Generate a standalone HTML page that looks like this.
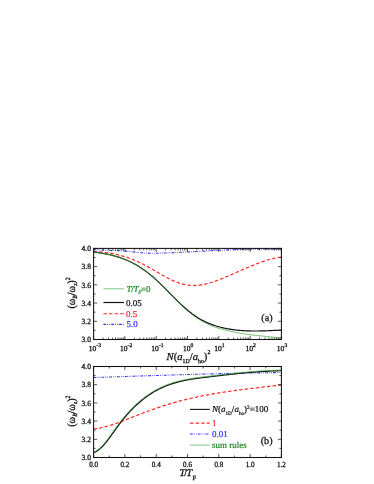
<!DOCTYPE html>
<html><head><meta charset="utf-8"><title>Breathing mode figure</title>
<style>
html,body{margin:0;padding:0;background:#fff;}
body{width:374px;height:484px;overflow:hidden;position:relative;font-family:"Liberation Serif",serif;}
</style></head><body>
<svg width="374" height="484" viewBox="0 0 374 484" style="position:absolute;left:0;top:0">
<rect width="374" height="484" fill="#fff"/>
<defs><filter id="soft" x="-5%" y="-5%" width="110%" height="110%"><feGaussianBlur stdDeviation="0.32"/></filter><clipPath id="ca"><rect x="93.6" y="248.4" width="187.79999999999998" height="91.1"/></clipPath><clipPath id="cb"><rect x="93.6" y="366.5" width="187.79999999999998" height="91.0"/></clipPath></defs>
<g fill="none" stroke-linejoin="round" clip-path="url(#ca)">
<path d="M93.60 249.62 L94.46 249.68 L95.32 249.73 L96.17 249.78 L97.03 249.82 L97.89 249.87 L98.75 249.91 L99.60 249.94 L100.46 249.98 L101.32 250.01 L102.18 250.05 L103.03 250.08 L103.89 250.11 L104.75 250.14 L105.61 250.17 L106.46 250.19 L107.32 250.22 L108.18 250.25 L109.04 250.28 L109.89 250.30 L110.75 250.33 L111.61 250.36 L112.47 250.39 L113.32 250.42 L114.18 250.45 L115.04 250.49 L115.90 250.52 L116.75 250.56 L117.61 250.60 L118.47 250.64 L119.33 250.69 L120.18 250.73 L121.04 250.78 L121.90 250.84 L122.76 250.89 L123.61 250.96 L124.47 251.02 L125.33 251.09 L126.19 251.16 L127.04 251.24 L127.90 251.32 L128.76 251.41 L129.62 251.50 L130.47 251.60 L131.33 251.70 L132.19 251.80 L133.05 251.90 L133.90 252.00 L134.76 252.10 L135.62 252.20 L136.48 252.30 L137.33 252.39 L138.19 252.48 L139.05 252.57 L139.91 252.65 L140.76 252.73 L141.62 252.80 L142.48 252.86 L143.34 252.92 L144.19 252.97 L145.05 253.02 L145.91 253.06 L146.77 253.10 L147.62 253.13 L148.48 253.16 L149.34 253.18 L150.20 253.20 L151.05 253.21 L151.91 253.22 L152.77 253.23 L153.63 253.23 L154.48 253.23 L155.34 253.23 L156.20 253.22 L157.06 253.21 L157.92 253.20 L158.77 253.18 L159.63 253.16 L160.49 253.14 L161.35 253.12 L162.20 253.09 L163.06 253.07 L163.92 253.04 L164.78 253.01 L165.63 252.98 L166.49 252.94 L167.35 252.91 L168.21 252.87 L169.06 252.84 L169.92 252.80 L170.78 252.76 L171.64 252.72 L172.49 252.69 L173.35 252.65 L174.21 252.61 L175.07 252.57 L175.92 252.53 L176.78 252.49 L177.64 252.45 L178.50 252.41 L179.35 252.36 L180.21 252.32 L181.07 252.28 L181.93 252.24 L182.78 252.20 L183.64 252.15 L184.50 252.11 L185.36 252.07 L186.21 252.02 L187.07 251.98 L187.93 251.93 L188.79 251.89 L189.64 251.85 L190.50 251.80 L191.36 251.76 L192.22 251.71 L193.07 251.67 L193.93 251.62 L194.79 251.58 L195.65 251.53 L196.50 251.49 L197.36 251.44 L198.22 251.40 L199.08 251.35 L199.93 251.31 L200.79 251.26 L201.65 251.22 L202.51 251.17 L203.36 251.13 L204.22 251.08 L205.08 251.04 L205.94 251.00 L206.79 250.95 L207.65 250.91 L208.51 250.86 L209.37 250.82 L210.22 250.78 L211.08 250.73 L211.94 250.69 L212.80 250.65 L213.65 250.60 L214.51 250.56 L215.37 250.52 L216.23 250.48 L217.08 250.44 L217.94 250.40 L218.80 250.36 L219.66 250.32 L220.52 250.28 L221.37 250.24 L222.23 250.20 L223.09 250.16 L223.95 250.12 L224.80 250.08 L225.66 250.04 L226.52 250.01 L227.38 249.97 L228.23 249.94 L229.09 249.90 L229.95 249.87 L230.81 249.83 L231.66 249.80 L232.52 249.76 L233.38 249.73 L234.24 249.70 L235.09 249.67 L235.95 249.64 L236.81 249.61 L237.67 249.58 L238.52 249.55 L239.38 249.52 L240.24 249.50 L241.10 249.47 L241.95 249.44 L242.81 249.42 L243.67 249.40 L244.53 249.37 L245.38 249.35 L246.24 249.33 L247.10 249.31 L247.96 249.29 L248.81 249.27 L249.67 249.25 L250.53 249.23 L251.39 249.22 L252.24 249.20 L253.10 249.19 L253.96 249.17 L254.82 249.16 L255.67 249.15 L256.53 249.14 L257.39 249.13 L258.25 249.12 L259.10 249.11 L259.96 249.11 L260.82 249.10 L261.68 249.10 L262.53 249.09 L263.39 249.09 L264.25 249.09 L265.11 249.09 L265.96 249.09 L266.82 249.10 L267.68 249.10 L268.54 249.10 L269.39 249.11 L270.25 249.12 L271.11 249.13 L271.97 249.14 L272.82 249.15 L273.68 249.16 L274.54 249.17 L275.40 249.19 L276.25 249.21 L277.11 249.22 L277.97 249.24 L278.83 249.26 L279.68 249.29 L280.54 249.31 L281.40 249.34" stroke="#3030ff" stroke-width="1.1" stroke-dasharray="2.8 1.2 0.7 1.2 0.7 1.2"/>
<path d="M93.60 251.42 L94.46 251.47 L95.32 251.52 L96.17 251.57 L97.03 251.63 L97.89 251.69 L98.75 251.76 L99.60 251.83 L100.46 251.91 L101.32 251.99 L102.18 252.08 L103.03 252.18 L103.89 252.28 L104.75 252.38 L105.61 252.50 L106.46 252.61 L107.32 252.74 L108.18 252.87 L109.04 253.00 L109.89 253.14 L110.75 253.29 L111.61 253.45 L112.47 253.61 L113.32 253.77 L114.18 253.95 L115.04 254.13 L115.90 254.31 L116.75 254.51 L117.61 254.71 L118.47 254.92 L119.33 255.13 L120.18 255.35 L121.04 255.58 L121.90 255.82 L122.76 256.06 L123.61 256.31 L124.47 256.57 L125.33 256.84 L126.19 257.11 L127.04 257.39 L127.90 257.68 L128.76 257.98 L129.62 258.28 L130.47 258.60 L131.33 258.92 L132.19 259.25 L133.05 259.58 L133.90 259.93 L134.76 260.29 L135.62 260.65 L136.48 261.02 L137.33 261.40 L138.19 261.79 L139.05 262.19 L139.91 262.60 L140.76 263.02 L141.62 263.44 L142.48 263.88 L143.34 264.32 L144.19 264.77 L145.05 265.23 L145.91 265.69 L146.77 266.16 L147.62 266.64 L148.48 267.12 L149.34 267.60 L150.20 268.09 L151.05 268.58 L151.91 269.08 L152.77 269.57 L153.63 270.07 L154.48 270.57 L155.34 271.07 L156.20 271.57 L157.06 272.07 L157.92 272.57 L158.77 273.07 L159.63 273.57 L160.49 274.06 L161.35 274.55 L162.20 275.03 L163.06 275.52 L163.92 275.99 L164.78 276.46 L165.63 276.93 L166.49 277.39 L167.35 277.84 L168.21 278.28 L169.06 278.72 L169.92 279.15 L170.78 279.56 L171.64 279.97 L172.49 280.37 L173.35 280.76 L174.21 281.13 L175.07 281.50 L175.92 281.85 L176.78 282.19 L177.64 282.51 L178.50 282.82 L179.35 283.12 L180.21 283.40 L181.07 283.66 L181.93 283.91 L182.78 284.14 L183.64 284.36 L184.50 284.55 L185.36 284.73 L186.21 284.89 L187.07 285.03 L187.93 285.15 L188.79 285.25 L189.64 285.34 L190.50 285.40 L191.36 285.45 L192.22 285.48 L193.07 285.49 L193.93 285.49 L194.79 285.47 L195.65 285.44 L196.50 285.39 L197.36 285.33 L198.22 285.25 L199.08 285.15 L199.93 285.05 L200.79 284.92 L201.65 284.79 L202.51 284.64 L203.36 284.48 L204.22 284.31 L205.08 284.13 L205.94 283.93 L206.79 283.73 L207.65 283.51 L208.51 283.28 L209.37 283.04 L210.22 282.80 L211.08 282.54 L211.94 282.28 L212.80 282.00 L213.65 281.72 L214.51 281.43 L215.37 281.13 L216.23 280.83 L217.08 280.52 L217.94 280.20 L218.80 279.88 L219.66 279.55 L220.52 279.21 L221.37 278.87 L222.23 278.53 L223.09 278.18 L223.95 277.83 L224.80 277.47 L225.66 277.11 L226.52 276.75 L227.38 276.38 L228.23 276.02 L229.09 275.65 L229.95 275.28 L230.81 274.90 L231.66 274.53 L232.52 274.15 L233.38 273.77 L234.24 273.39 L235.09 273.01 L235.95 272.63 L236.81 272.25 L237.67 271.87 L238.52 271.49 L239.38 271.11 L240.24 270.73 L241.10 270.35 L241.95 269.97 L242.81 269.59 L243.67 269.21 L244.53 268.84 L245.38 268.46 L246.24 268.09 L247.10 267.72 L247.96 267.36 L248.81 266.99 L249.67 266.63 L250.53 266.27 L251.39 265.91 L252.24 265.56 L253.10 265.21 L253.96 264.86 L254.82 264.52 L255.67 264.18 L256.53 263.85 L257.39 263.52 L258.25 263.20 L259.10 262.88 L259.96 262.56 L260.82 262.26 L261.68 261.95 L262.53 261.65 L263.39 261.36 L264.25 261.08 L265.11 260.80 L265.96 260.53 L266.82 260.26 L267.68 260.00 L268.54 259.75 L269.39 259.51 L270.25 259.28 L271.11 259.05 L271.97 258.83 L272.82 258.62 L273.68 258.41 L274.54 258.22 L275.40 258.03 L276.25 257.86 L277.11 257.69 L277.97 257.53 L278.83 257.39 L279.68 257.25 L280.54 257.12 L281.40 257.00" stroke="#ff2a2a" stroke-width="1.2" stroke-dasharray="3.5 2.1"/>
<path d="M93.60 252.06 L94.46 252.17 L95.32 252.27 L96.17 252.38 L97.03 252.50 L97.89 252.62 L98.75 252.74 L99.60 252.86 L100.46 253.00 L101.32 253.13 L102.18 253.27 L103.03 253.41 L103.89 253.56 L104.75 253.72 L105.61 253.88 L106.46 254.05 L107.32 254.22 L108.18 254.40 L109.04 254.58 L109.89 254.78 L110.75 254.97 L111.61 255.18 L112.47 255.39 L113.32 255.61 L114.18 255.84 L115.04 256.07 L115.90 256.32 L116.75 256.57 L117.61 256.83 L118.47 257.10 L119.33 257.37 L120.18 257.66 L121.04 257.96 L121.90 258.26 L122.76 258.58 L123.61 258.90 L124.47 259.23 L125.33 259.58 L126.19 259.93 L127.04 260.30 L127.90 260.68 L128.76 261.06 L129.62 261.46 L130.47 261.87 L131.33 262.29 L132.19 262.73 L133.05 263.17 L133.90 263.63 L134.76 264.10 L135.62 264.58 L136.48 265.08 L137.33 265.58 L138.19 266.10 L139.05 266.63 L139.91 267.18 L140.76 267.73 L141.62 268.30 L142.48 268.88 L143.34 269.48 L144.19 270.08 L145.05 270.70 L145.91 271.33 L146.77 271.97 L147.62 272.62 L148.48 273.29 L149.34 273.97 L150.20 274.66 L151.05 275.36 L151.91 276.08 L152.77 276.81 L153.63 277.55 L154.48 278.30 L155.34 279.07 L156.20 279.85 L157.06 280.63 L157.92 281.43 L158.77 282.24 L159.63 283.06 L160.49 283.89 L161.35 284.72 L162.20 285.57 L163.06 286.41 L163.92 287.27 L164.78 288.13 L165.63 288.99 L166.49 289.85 L167.35 290.72 L168.21 291.59 L169.06 292.46 L169.92 293.33 L170.78 294.21 L171.64 295.08 L172.49 295.94 L173.35 296.81 L174.21 297.67 L175.07 298.53 L175.92 299.39 L176.78 300.23 L177.64 301.08 L178.50 301.91 L179.35 302.74 L180.21 303.56 L181.07 304.37 L181.93 305.17 L182.78 305.96 L183.64 306.75 L184.50 307.52 L185.36 308.28 L186.21 309.02 L187.07 309.76 L187.93 310.48 L188.79 311.19 L189.64 311.88 L190.50 312.56 L191.36 313.22 L192.22 313.87 L193.07 314.50 L193.93 315.11 L194.79 315.71 L195.65 316.29 L196.50 316.86 L197.36 317.41 L198.22 317.94 L199.08 318.46 L199.93 318.96 L200.79 319.45 L201.65 319.93 L202.51 320.39 L203.36 320.83 L204.22 321.26 L205.08 321.68 L205.94 322.09 L206.79 322.48 L207.65 322.86 L208.51 323.23 L209.37 323.58 L210.22 323.92 L211.08 324.26 L211.94 324.58 L212.80 324.89 L213.65 325.18 L214.51 325.47 L215.37 325.75 L216.23 326.02 L217.08 326.28 L217.94 326.53 L218.80 326.77 L219.66 327.00 L220.52 327.22 L221.37 327.44 L222.23 327.64 L223.09 327.84 L223.95 328.03 L224.80 328.22 L225.66 328.40 L226.52 328.57 L227.38 328.73 L228.23 328.89 L229.09 329.04 L229.95 329.18 L230.81 329.32 L231.66 329.45 L232.52 329.57 L233.38 329.69 L234.24 329.80 L235.09 329.91 L235.95 330.01 L236.81 330.11 L237.67 330.20 L238.52 330.28 L239.38 330.36 L240.24 330.44 L241.10 330.50 L241.95 330.57 L242.81 330.63 L243.67 330.68 L244.53 330.73 L245.38 330.78 L246.24 330.82 L247.10 330.85 L247.96 330.89 L248.81 330.92 L249.67 330.94 L250.53 330.96 L251.39 330.98 L252.24 330.99 L253.10 331.00 L253.96 331.01 L254.82 331.01 L255.67 331.01 L256.53 331.00 L257.39 331.00 L258.25 330.99 L259.10 330.98 L259.96 330.96 L260.82 330.94 L261.68 330.92 L262.53 330.90 L263.39 330.88 L264.25 330.85 L265.11 330.82 L265.96 330.79 L266.82 330.76 L267.68 330.73 L268.54 330.69 L269.39 330.66 L270.25 330.62 L271.11 330.58 L271.97 330.54 L272.82 330.50 L273.68 330.45 L274.54 330.41 L275.40 330.37 L276.25 330.32 L277.11 330.28 L277.97 330.23 L278.83 330.19 L279.68 330.14 L280.54 330.10 L281.40 330.05" stroke="#111" stroke-width="1.2"/>
<path d="M93.60 252.07 L94.46 252.17 L95.32 252.26 L96.17 252.37 L97.03 252.47 L97.89 252.59 L98.75 252.70 L99.60 252.83 L100.46 252.95 L101.32 253.09 L102.18 253.22 L103.03 253.37 L103.89 253.52 L104.75 253.67 L105.61 253.83 L106.46 254.00 L107.32 254.18 L108.18 254.36 L109.04 254.54 L109.89 254.74 L110.75 254.94 L111.61 255.15 L112.47 255.37 L113.32 255.59 L114.18 255.82 L115.04 256.06 L115.90 256.31 L116.75 256.57 L117.61 256.83 L118.47 257.11 L119.33 257.39 L120.18 257.68 L121.04 257.98 L121.90 258.29 L122.76 258.61 L123.61 258.94 L124.47 259.28 L125.33 259.63 L126.19 259.99 L127.04 260.36 L127.90 260.74 L128.76 261.13 L129.62 261.53 L130.47 261.94 L131.33 262.36 L132.19 262.80 L133.05 263.24 L133.90 263.70 L134.76 264.17 L135.62 264.65 L136.48 265.14 L137.33 265.65 L138.19 266.17 L139.05 266.69 L139.91 267.23 L140.76 267.79 L141.62 268.35 L142.48 268.93 L143.34 269.52 L144.19 270.12 L145.05 270.74 L145.91 271.36 L146.77 272.00 L147.62 272.65 L148.48 273.32 L149.34 273.99 L150.20 274.68 L151.05 275.39 L151.91 276.10 L152.77 276.83 L153.63 277.57 L154.48 278.33 L155.34 279.10 L156.20 279.88 L157.06 280.67 L157.92 281.47 L158.77 282.29 L159.63 283.11 L160.49 283.95 L161.35 284.79 L162.20 285.64 L163.06 286.50 L163.92 287.36 L164.78 288.23 L165.63 289.11 L166.49 289.99 L167.35 290.87 L168.21 291.75 L169.06 292.64 L169.92 293.53 L170.78 294.42 L171.64 295.31 L172.49 296.19 L173.35 297.08 L174.21 297.96 L175.07 298.85 L175.92 299.72 L176.78 300.60 L177.64 301.46 L178.50 302.32 L179.35 303.18 L180.21 304.03 L181.07 304.87 L181.93 305.70 L182.78 306.52 L183.64 307.33 L184.50 308.13 L185.36 308.92 L186.21 309.69 L187.07 310.46 L187.93 311.21 L188.79 311.95 L189.64 312.67 L190.50 313.38 L191.36 314.07 L192.22 314.74 L193.07 315.40 L193.93 316.04 L194.79 316.66 L195.65 317.26 L196.50 317.85 L197.36 318.41 L198.22 318.97 L199.08 319.50 L199.93 320.03 L200.79 320.53 L201.65 321.02 L202.51 321.50 L203.36 321.96 L204.22 322.41 L205.08 322.84 L205.94 323.27 L206.79 323.67 L207.65 324.07 L208.51 324.46 L209.37 324.83 L210.22 325.19 L211.08 325.54 L211.94 325.88 L212.80 326.21 L213.65 326.53 L214.51 326.84 L215.37 327.14 L216.23 327.43 L217.08 327.72 L217.94 327.99 L218.80 328.26 L219.66 328.52 L220.52 328.77 L221.37 329.02 L222.23 329.26 L223.09 329.50 L223.95 329.73 L224.80 329.95 L225.66 330.17 L226.52 330.38 L227.38 330.59 L228.23 330.80 L229.09 331.00 L229.95 331.19 L230.81 331.38 L231.66 331.57 L232.52 331.75 L233.38 331.93 L234.24 332.10 L235.09 332.27 L235.95 332.44 L236.81 332.60 L237.67 332.76 L238.52 332.91 L239.38 333.06 L240.24 333.21 L241.10 333.35 L241.95 333.49 L242.81 333.63 L243.67 333.77 L244.53 333.90 L245.38 334.03 L246.24 334.15 L247.10 334.27 L247.96 334.39 L248.81 334.51 L249.67 334.63 L250.53 334.74 L251.39 334.85 L252.24 334.96 L253.10 335.06 L253.96 335.17 L254.82 335.27 L255.67 335.37 L256.53 335.47 L257.39 335.56 L258.25 335.66 L259.10 335.75 L259.96 335.85 L260.82 335.94 L261.68 336.03 L262.53 336.11 L263.39 336.20 L264.25 336.29 L265.11 336.38 L265.96 336.46 L266.82 336.55 L267.68 336.63 L268.54 336.71 L269.39 336.80 L270.25 336.88 L271.11 336.96 L271.97 337.05 L272.82 337.13 L273.68 337.21 L274.54 337.30 L275.40 337.38 L276.25 337.46 L277.11 337.55 L277.97 337.63 L278.83 337.72 L279.68 337.80 L280.54 337.89 L281.40 337.98" stroke="#3aa53a" stroke-width="0.75"/>
</g>
<g fill="none" stroke-linejoin="round" clip-path="url(#cb)">
<path d="M93.60 377.53 L94.46 377.50 L95.32 377.47 L96.17 377.44 L97.03 377.41 L97.89 377.39 L98.75 377.36 L99.60 377.33 L100.46 377.30 L101.32 377.27 L102.18 377.24 L103.03 377.22 L103.89 377.19 L104.75 377.16 L105.61 377.13 L106.46 377.10 L107.32 377.08 L108.18 377.05 L109.04 377.02 L109.89 376.99 L110.75 376.96 L111.61 376.93 L112.47 376.91 L113.32 376.88 L114.18 376.85 L115.04 376.82 L115.90 376.79 L116.75 376.76 L117.61 376.74 L118.47 376.71 L119.33 376.68 L120.18 376.65 L121.04 376.62 L121.90 376.59 L122.76 376.57 L123.61 376.54 L124.47 376.51 L125.33 376.48 L126.19 376.45 L127.04 376.42 L127.90 376.40 L128.76 376.37 L129.62 376.34 L130.47 376.31 L131.33 376.28 L132.19 376.25 L133.05 376.23 L133.90 376.20 L134.76 376.17 L135.62 376.14 L136.48 376.11 L137.33 376.09 L138.19 376.06 L139.05 376.03 L139.91 376.00 L140.76 375.97 L141.62 375.95 L142.48 375.92 L143.34 375.89 L144.19 375.86 L145.05 375.84 L145.91 375.81 L146.77 375.78 L147.62 375.75 L148.48 375.73 L149.34 375.70 L150.20 375.67 L151.05 375.64 L151.91 375.62 L152.77 375.59 L153.63 375.56 L154.48 375.53 L155.34 375.51 L156.20 375.48 L157.06 375.45 L157.92 375.43 L158.77 375.40 L159.63 375.37 L160.49 375.34 L161.35 375.32 L162.20 375.29 L163.06 375.26 L163.92 375.24 L164.78 375.21 L165.63 375.18 L166.49 375.16 L167.35 375.13 L168.21 375.10 L169.06 375.08 L169.92 375.05 L170.78 375.03 L171.64 375.00 L172.49 374.97 L173.35 374.95 L174.21 374.92 L175.07 374.89 L175.92 374.87 L176.78 374.84 L177.64 374.82 L178.50 374.79 L179.35 374.77 L180.21 374.74 L181.07 374.72 L181.93 374.69 L182.78 374.67 L183.64 374.64 L184.50 374.61 L185.36 374.59 L186.21 374.56 L187.07 374.54 L187.93 374.52 L188.79 374.49 L189.64 374.47 L190.50 374.44 L191.36 374.42 L192.22 374.39 L193.07 374.37 L193.93 374.34 L194.79 374.32 L195.65 374.30 L196.50 374.27 L197.36 374.25 L198.22 374.22 L199.08 374.20 L199.93 374.18 L200.79 374.15 L201.65 374.13 L202.51 374.11 L203.36 374.08 L204.22 374.06 L205.08 374.04 L205.94 374.02 L206.79 373.99 L207.65 373.97 L208.51 373.95 L209.37 373.93 L210.22 373.90 L211.08 373.88 L211.94 373.86 L212.80 373.84 L213.65 373.82 L214.51 373.79 L215.37 373.77 L216.23 373.75 L217.08 373.73 L217.94 373.71 L218.80 373.69 L219.66 373.67 L220.52 373.65 L221.37 373.62 L222.23 373.60 L223.09 373.58 L223.95 373.56 L224.80 373.54 L225.66 373.52 L226.52 373.50 L227.38 373.48 L228.23 373.46 L229.09 373.44 L229.95 373.42 L230.81 373.40 L231.66 373.38 L232.52 373.37 L233.38 373.35 L234.24 373.33 L235.09 373.31 L235.95 373.29 L236.81 373.27 L237.67 373.25 L238.52 373.24 L239.38 373.22 L240.24 373.20 L241.10 373.18 L241.95 373.16 L242.81 373.15 L243.67 373.13 L244.53 373.11 L245.38 373.10 L246.24 373.08 L247.10 373.06 L247.96 373.05 L248.81 373.03 L249.67 373.01 L250.53 373.00 L251.39 372.98 L252.24 372.97 L253.10 372.95 L253.96 372.93 L254.82 372.92 L255.67 372.90 L256.53 372.89 L257.39 372.87 L258.25 372.86 L259.10 372.84 L259.96 372.83 L260.82 372.82 L261.68 372.80 L262.53 372.79 L263.39 372.77 L264.25 372.76 L265.11 372.75 L265.96 372.73 L266.82 372.72 L267.68 372.71 L268.54 372.70 L269.39 372.68 L270.25 372.67 L271.11 372.66 L271.97 372.65 L272.82 372.64 L273.68 372.62 L274.54 372.61 L275.40 372.60 L276.25 372.59 L277.11 372.58 L277.97 372.57 L278.83 372.56 L279.68 372.55 L280.54 372.54 L281.40 372.53" stroke="#3030ff" stroke-width="1.1" stroke-dasharray="2.8 1.2 0.7 1.2 0.7 1.2"/>
<path d="M93.60 429.01 L94.46 428.91 L95.32 428.80 L96.17 428.68 L97.03 428.55 L97.89 428.41 L98.75 428.26 L99.60 428.10 L100.46 427.92 L101.32 427.74 L102.18 427.55 L103.03 427.35 L103.89 427.14 L104.75 426.93 L105.61 426.70 L106.46 426.47 L107.32 426.23 L108.18 425.98 L109.04 425.73 L109.89 425.47 L110.75 425.20 L111.61 424.93 L112.47 424.65 L113.32 424.36 L114.18 424.07 L115.04 423.78 L115.90 423.48 L116.75 423.17 L117.61 422.86 L118.47 422.55 L119.33 422.23 L120.18 421.91 L121.04 421.59 L121.90 421.26 L122.76 420.94 L123.61 420.61 L124.47 420.27 L125.33 419.94 L126.19 419.60 L127.04 419.27 L127.90 418.93 L128.76 418.59 L129.62 418.25 L130.47 417.91 L131.33 417.57 L132.19 417.23 L133.05 416.90 L133.90 416.56 L134.76 416.22 L135.62 415.89 L136.48 415.56 L137.33 415.22 L138.19 414.89 L139.05 414.56 L139.91 414.23 L140.76 413.90 L141.62 413.57 L142.48 413.25 L143.34 412.92 L144.19 412.60 L145.05 412.28 L145.91 411.96 L146.77 411.64 L147.62 411.32 L148.48 411.01 L149.34 410.70 L150.20 410.38 L151.05 410.08 L151.91 409.77 L152.77 409.46 L153.63 409.16 L154.48 408.86 L155.34 408.56 L156.20 408.26 L157.06 407.96 L157.92 407.67 L158.77 407.38 L159.63 407.09 L160.49 406.80 L161.35 406.52 L162.20 406.24 L163.06 405.96 L163.92 405.68 L164.78 405.41 L165.63 405.14 L166.49 404.87 L167.35 404.60 L168.21 404.34 L169.06 404.08 L169.92 403.83 L170.78 403.57 L171.64 403.32 L172.49 403.07 L173.35 402.82 L174.21 402.58 L175.07 402.34 L175.92 402.10 L176.78 401.87 L177.64 401.63 L178.50 401.40 L179.35 401.17 L180.21 400.95 L181.07 400.72 L181.93 400.50 L182.78 400.28 L183.64 400.07 L184.50 399.85 L185.36 399.64 L186.21 399.43 L187.07 399.23 L187.93 399.02 L188.79 398.82 L189.64 398.62 L190.50 398.42 L191.36 398.22 L192.22 398.03 L193.07 397.84 L193.93 397.65 L194.79 397.46 L195.65 397.27 L196.50 397.09 L197.36 396.91 L198.22 396.73 L199.08 396.55 L199.93 396.38 L200.79 396.20 L201.65 396.03 L202.51 395.86 L203.36 395.69 L204.22 395.53 L205.08 395.36 L205.94 395.20 L206.79 395.04 L207.65 394.88 L208.51 394.72 L209.37 394.56 L210.22 394.41 L211.08 394.26 L211.94 394.10 L212.80 393.95 L213.65 393.81 L214.51 393.66 L215.37 393.51 L216.23 393.37 L217.08 393.23 L217.94 393.09 L218.80 392.95 L219.66 392.81 L220.52 392.67 L221.37 392.54 L222.23 392.40 L223.09 392.27 L223.95 392.14 L224.80 392.01 L225.66 391.88 L226.52 391.75 L227.38 391.62 L228.23 391.50 L229.09 391.37 L229.95 391.25 L230.81 391.13 L231.66 391.01 L232.52 390.89 L233.38 390.77 L234.24 390.65 L235.09 390.53 L235.95 390.42 L236.81 390.30 L237.67 390.19 L238.52 390.07 L239.38 389.96 L240.24 389.85 L241.10 389.73 L241.95 389.62 L242.81 389.51 L243.67 389.41 L244.53 389.30 L245.38 389.19 L246.24 389.08 L247.10 388.98 L247.96 388.87 L248.81 388.76 L249.67 388.66 L250.53 388.56 L251.39 388.45 L252.24 388.35 L253.10 388.25 L253.96 388.14 L254.82 388.04 L255.67 387.94 L256.53 387.84 L257.39 387.74 L258.25 387.64 L259.10 387.54 L259.96 387.44 L260.82 387.34 L261.68 387.24 L262.53 387.14 L263.39 387.04 L264.25 386.94 L265.11 386.84 L265.96 386.74 L266.82 386.65 L267.68 386.55 L268.54 386.45 L269.39 386.35 L270.25 386.25 L271.11 386.15 L271.97 386.05 L272.82 385.96 L273.68 385.86 L274.54 385.76 L275.40 385.66 L276.25 385.56 L277.11 385.46 L277.97 385.36 L278.83 385.26 L279.68 385.16 L280.54 385.06 L281.40 384.96" stroke="#ff2a2a" stroke-width="1.2" stroke-dasharray="3.5 2.1"/>
<path d="M93.60 452.61 L94.46 452.32 L95.32 451.96 L96.17 451.53 L97.03 451.02 L97.89 450.46 L98.75 449.82 L99.60 449.13 L100.46 448.39 L101.32 447.59 L102.18 446.73 L103.03 445.84 L103.89 444.89 L104.75 443.91 L105.61 442.89 L106.46 441.83 L107.32 440.75 L108.18 439.63 L109.04 438.49 L109.89 437.33 L110.75 436.16 L111.61 434.97 L112.47 433.77 L113.32 432.56 L114.18 431.35 L115.04 430.14 L115.90 428.94 L116.75 427.74 L117.61 426.56 L118.47 425.39 L119.33 424.23 L120.18 423.10 L121.04 421.99 L121.90 420.89 L122.76 419.81 L123.61 418.76 L124.47 417.72 L125.33 416.69 L126.19 415.69 L127.04 414.70 L127.90 413.74 L128.76 412.78 L129.62 411.85 L130.47 410.93 L131.33 410.04 L132.19 409.15 L133.05 408.29 L133.90 407.44 L134.76 406.60 L135.62 405.79 L136.48 404.99 L137.33 404.20 L138.19 403.43 L139.05 402.68 L139.91 401.94 L140.76 401.22 L141.62 400.51 L142.48 399.82 L143.34 399.14 L144.19 398.47 L145.05 397.83 L145.91 397.19 L146.77 396.57 L147.62 395.96 L148.48 395.37 L149.34 394.79 L150.20 394.22 L151.05 393.67 L151.91 393.13 L152.77 392.60 L153.63 392.08 L154.48 391.58 L155.34 391.09 L156.20 390.61 L157.06 390.15 L157.92 389.70 L158.77 389.25 L159.63 388.82 L160.49 388.40 L161.35 388.00 L162.20 387.60 L163.06 387.21 L163.92 386.84 L164.78 386.47 L165.63 386.12 L166.49 385.78 L167.35 385.44 L168.21 385.12 L169.06 384.80 L169.92 384.49 L170.78 384.20 L171.64 383.91 L172.49 383.63 L173.35 383.35 L174.21 383.09 L175.07 382.84 L175.92 382.59 L176.78 382.35 L177.64 382.11 L178.50 381.89 L179.35 381.67 L180.21 381.46 L181.07 381.25 L181.93 381.05 L182.78 380.86 L183.64 380.67 L184.50 380.49 L185.36 380.32 L186.21 380.15 L187.07 379.98 L187.93 379.82 L188.79 379.67 L189.64 379.52 L190.50 379.37 L191.36 379.23 L192.22 379.09 L193.07 378.95 L193.93 378.82 L194.79 378.69 L195.65 378.57 L196.50 378.45 L197.36 378.33 L198.22 378.21 L199.08 378.10 L199.93 377.98 L200.79 377.87 L201.65 377.77 L202.51 377.66 L203.36 377.55 L204.22 377.45 L205.08 377.34 L205.94 377.24 L206.79 377.14 L207.65 377.03 L208.51 376.93 L209.37 376.83 L210.22 376.73 L211.08 376.63 L211.94 376.52 L212.80 376.42 L213.65 376.32 L214.51 376.22 L215.37 376.11 L216.23 376.01 L217.08 375.91 L217.94 375.81 L218.80 375.71 L219.66 375.61 L220.52 375.51 L221.37 375.41 L222.23 375.31 L223.09 375.21 L223.95 375.11 L224.80 375.01 L225.66 374.91 L226.52 374.82 L227.38 374.72 L228.23 374.62 L229.09 374.53 L229.95 374.43 L230.81 374.34 L231.66 374.24 L232.52 374.15 L233.38 374.06 L234.24 373.97 L235.09 373.87 L235.95 373.78 L236.81 373.69 L237.67 373.61 L238.52 373.52 L239.38 373.43 L240.24 373.34 L241.10 373.26 L241.95 373.17 L242.81 373.09 L243.67 373.01 L244.53 372.93 L245.38 372.85 L246.24 372.77 L247.10 372.69 L247.96 372.61 L248.81 372.53 L249.67 372.46 L250.53 372.38 L251.39 372.31 L252.24 372.24 L253.10 372.17 L253.96 372.10 L254.82 372.03 L255.67 371.97 L256.53 371.90 L257.39 371.84 L258.25 371.77 L259.10 371.71 L259.96 371.65 L260.82 371.60 L261.68 371.54 L262.53 371.48 L263.39 371.43 L264.25 371.38 L265.11 371.33 L265.96 371.28 L266.82 371.23 L267.68 371.19 L268.54 371.14 L269.39 371.10 L270.25 371.06 L271.11 371.02 L271.97 370.98 L272.82 370.95 L273.68 370.92 L274.54 370.88 L275.40 370.86 L276.25 370.83 L277.11 370.80 L277.97 370.78 L278.83 370.76 L279.68 370.74 L280.54 370.72 L281.40 370.70" stroke="#111" stroke-width="1.2"/>
<path d="M93.10 452.01 L93.96 451.72 L94.82 451.36 L95.67 450.93 L96.53 450.42 L97.39 449.86 L98.25 449.22 L99.10 448.53 L99.96 447.79 L100.82 446.99 L101.68 446.13 L102.53 445.24 L103.39 444.29 L104.25 443.31 L105.11 442.29 L105.96 441.23 L106.82 440.15 L107.68 439.03 L108.54 437.89 L109.39 436.73 L110.25 435.56 L111.11 434.37 L111.97 433.17 L112.82 431.96 L113.68 430.75 L114.54 429.54 L115.40 428.34 L116.25 427.14 L117.11 425.96 L117.97 424.79 L118.83 423.63 L119.68 422.50 L120.54 421.39 L121.40 420.29 L122.26 419.21 L123.11 418.16 L123.97 417.12 L124.83 416.09 L125.69 415.09 L126.54 414.10 L127.40 413.14 L128.26 412.18 L129.12 411.25 L129.97 410.33 L130.83 409.44 L131.69 408.55 L132.55 407.69 L133.40 406.84 L134.26 406.00 L135.12 405.19 L135.98 404.39 L136.83 403.60 L137.69 402.83 L138.55 402.08 L139.41 401.34 L140.26 400.62 L141.12 399.91 L141.98 399.22 L142.84 398.54 L143.69 397.87 L144.55 397.23 L145.41 396.59 L146.27 395.97 L147.12 395.36 L147.98 394.77 L148.84 394.19 L149.70 393.62 L150.55 393.07 L151.41 392.53 L152.27 392.00 L153.13 391.48 L153.98 390.98 L154.84 390.49 L155.70 390.01 L156.56 389.55 L157.42 389.10 L158.27 388.65 L159.13 388.22 L159.99 387.80 L160.85 387.40 L161.70 387.00 L162.56 386.61 L163.42 386.24 L164.28 385.87 L165.13 385.52 L165.99 385.18 L166.85 384.84 L167.71 384.52 L168.56 384.20 L169.42 383.89 L170.28 383.60 L171.14 383.31 L171.99 383.03 L172.85 382.75 L173.71 382.49 L174.57 382.24 L175.42 381.99 L176.28 381.75 L177.14 381.51 L178.00 381.29 L178.85 381.07 L179.71 380.86 L180.57 380.65 L181.43 380.45 L182.28 380.26 L183.14 380.07 L184.00 379.89 L184.86 379.72 L185.71 379.55 L186.57 379.38 L187.43 379.22 L188.29 379.07 L189.14 378.92 L190.00 378.77 L190.86 378.63 L191.72 378.49 L192.57 378.35 L193.43 378.22 L194.29 378.09 L195.15 377.97 L196.00 377.85 L196.86 377.73 L197.72 377.61 L198.58 377.50 L199.43 377.38 L200.29 377.27 L201.15 377.17 L202.01 377.06 L202.86 376.95 L203.72 376.85 L204.58 376.74 L205.44 376.64 L206.29 376.54 L207.15 376.43 L208.01 376.33 L208.87 376.23 L209.72 376.13 L210.58 376.03 L211.44 375.92 L212.30 375.82 L213.15 375.72 L214.01 375.62 L214.87 375.51 L215.73 375.41 L216.58 375.31 L217.44 375.21 L218.30 375.11 L219.16 375.01 L220.02 374.91 L220.87 374.81 L221.73 374.71 L222.59 374.61 L223.45 374.51 L224.30 374.41 L225.16 374.31 L226.02 374.22 L226.88 374.12 L227.73 374.02 L228.59 373.93 L229.45 373.83 L230.31 373.74 L231.16 373.64 L232.02 373.55 L232.88 373.46 L233.74 373.37 L234.59 373.27 L235.45 373.18 L236.31 373.09 L237.17 373.01 L238.02 372.92 L238.88 372.83 L239.74 372.74 L240.60 372.66 L241.45 372.57 L242.31 372.49 L243.17 372.41 L244.03 372.33 L244.88 372.25 L245.74 372.17 L246.60 372.09 L247.46 372.01 L248.31 371.93 L249.17 371.86 L250.03 371.78 L250.89 371.71 L251.74 371.64 L252.60 371.57 L253.46 371.50 L254.32 371.43 L255.17 371.37 L256.03 371.30 L256.89 371.24 L257.75 371.17 L258.60 371.11 L259.46 371.05 L260.32 371.00 L261.18 370.94 L262.03 370.88 L262.89 370.83 L263.75 370.78 L264.61 370.73 L265.46 370.68 L266.32 370.63 L267.18 370.59 L268.04 370.54 L268.89 370.50 L269.75 370.46 L270.61 370.42 L271.47 370.38 L272.32 370.35 L273.18 370.32 L274.04 370.28 L274.90 370.26 L275.75 370.23 L276.61 370.20 L277.47 370.18 L278.33 370.16 L279.18 370.14 L280.04 370.12 L280.90 370.10" stroke="#3aa53a" stroke-width="0.75"/>
</g>
<rect x="93.6" y="248.4" width="187.80" height="91.10" fill="none" stroke="#111" stroke-width="1.05"/>
<path d="M93.60 339.5 v-3.6 M93.60 248.4 v3.6 M103.02 339.5 v-2.0 M103.02 248.4 v2.0 M108.53 339.5 v-2.0 M108.53 248.4 v2.0 M112.44 339.5 v-2.0 M112.44 248.4 v2.0 M115.48 339.5 v-2.0 M115.48 248.4 v2.0 M117.96 339.5 v-2.0 M117.96 248.4 v2.0 M120.05 339.5 v-2.0 M120.05 248.4 v2.0 M121.87 339.5 v-2.0 M121.87 248.4 v2.0 M123.47 339.5 v-2.0 M123.47 248.4 v2.0 M124.90 339.5 v-3.6 M124.90 248.4 v3.6 M134.32 339.5 v-2.0 M134.32 248.4 v2.0 M139.83 339.5 v-2.0 M139.83 248.4 v2.0 M143.74 339.5 v-2.0 M143.74 248.4 v2.0 M146.78 339.5 v-2.0 M146.78 248.4 v2.0 M149.26 339.5 v-2.0 M149.26 248.4 v2.0 M151.35 339.5 v-2.0 M151.35 248.4 v2.0 M153.17 339.5 v-2.0 M153.17 248.4 v2.0 M154.77 339.5 v-2.0 M154.77 248.4 v2.0 M156.20 339.5 v-3.6 M156.20 248.4 v3.6 M165.62 339.5 v-2.0 M165.62 248.4 v2.0 M171.13 339.5 v-2.0 M171.13 248.4 v2.0 M175.04 339.5 v-2.0 M175.04 248.4 v2.0 M178.08 339.5 v-2.0 M178.08 248.4 v2.0 M180.56 339.5 v-2.0 M180.56 248.4 v2.0 M182.65 339.5 v-2.0 M182.65 248.4 v2.0 M184.47 339.5 v-2.0 M184.47 248.4 v2.0 M186.07 339.5 v-2.0 M186.07 248.4 v2.0 M187.50 339.5 v-3.6 M187.50 248.4 v3.6 M196.92 339.5 v-2.0 M196.92 248.4 v2.0 M202.43 339.5 v-2.0 M202.43 248.4 v2.0 M206.34 339.5 v-2.0 M206.34 248.4 v2.0 M209.38 339.5 v-2.0 M209.38 248.4 v2.0 M211.86 339.5 v-2.0 M211.86 248.4 v2.0 M213.95 339.5 v-2.0 M213.95 248.4 v2.0 M215.77 339.5 v-2.0 M215.77 248.4 v2.0 M217.37 339.5 v-2.0 M217.37 248.4 v2.0 M218.80 339.5 v-3.6 M218.80 248.4 v3.6 M228.22 339.5 v-2.0 M228.22 248.4 v2.0 M233.73 339.5 v-2.0 M233.73 248.4 v2.0 M237.64 339.5 v-2.0 M237.64 248.4 v2.0 M240.68 339.5 v-2.0 M240.68 248.4 v2.0 M243.16 339.5 v-2.0 M243.16 248.4 v2.0 M245.25 339.5 v-2.0 M245.25 248.4 v2.0 M247.07 339.5 v-2.0 M247.07 248.4 v2.0 M248.67 339.5 v-2.0 M248.67 248.4 v2.0 M250.10 339.5 v-3.6 M250.10 248.4 v3.6 M259.52 339.5 v-2.0 M259.52 248.4 v2.0 M265.03 339.5 v-2.0 M265.03 248.4 v2.0 M268.94 339.5 v-2.0 M268.94 248.4 v2.0 M271.98 339.5 v-2.0 M271.98 248.4 v2.0 M274.46 339.5 v-2.0 M274.46 248.4 v2.0 M276.55 339.5 v-2.0 M276.55 248.4 v2.0 M278.37 339.5 v-2.0 M278.37 248.4 v2.0 M279.97 339.5 v-2.0 M279.97 248.4 v2.0 M281.40 339.5 v-3.6 M281.40 248.4 v3.6 M93.6 339.50 h3.6 M281.4 339.50 h-3.6 M93.6 330.39 h2.0 M281.4 330.39 h-2.0 M93.6 321.28 h3.6 M281.4 321.28 h-3.6 M93.6 312.17 h2.0 M281.4 312.17 h-2.0 M93.6 303.06 h3.6 M281.4 303.06 h-3.6 M93.6 293.95 h2.0 M281.4 293.95 h-2.0 M93.6 284.84 h3.6 M281.4 284.84 h-3.6 M93.6 275.73 h2.0 M281.4 275.73 h-2.0 M93.6 266.62 h3.6 M281.4 266.62 h-3.6 M93.6 257.51 h2.0 M281.4 257.51 h-2.0 M93.6 248.40 h3.6 M281.4 248.40 h-3.6" stroke="#111" stroke-width="0.7" fill="none"/>
<rect x="93.6" y="366.5" width="187.80" height="91.00" fill="none" stroke="#111" stroke-width="1.05"/>
<path d="M93.60 457.5 v-3.6 M93.60 366.5 v3.6 M109.25 457.5 v-2.0 M109.25 366.5 v2.0 M124.90 457.5 v-3.6 M124.90 366.5 v3.6 M140.55 457.5 v-2.0 M140.55 366.5 v2.0 M156.20 457.5 v-3.6 M156.20 366.5 v3.6 M171.85 457.5 v-2.0 M171.85 366.5 v2.0 M187.50 457.5 v-3.6 M187.50 366.5 v3.6 M203.15 457.5 v-2.0 M203.15 366.5 v2.0 M218.80 457.5 v-3.6 M218.80 366.5 v3.6 M234.45 457.5 v-2.0 M234.45 366.5 v2.0 M250.10 457.5 v-3.6 M250.10 366.5 v3.6 M265.75 457.5 v-2.0 M265.75 366.5 v2.0 M281.40 457.5 v-3.6 M281.40 366.5 v3.6 M93.6 457.50 h3.6 M281.4 457.50 h-3.6 M93.6 448.40 h2.0 M281.4 448.40 h-2.0 M93.6 439.30 h3.6 M281.4 439.30 h-3.6 M93.6 430.20 h2.0 M281.4 430.20 h-2.0 M93.6 421.10 h3.6 M281.4 421.10 h-3.6 M93.6 412.00 h2.0 M281.4 412.00 h-2.0 M93.6 402.90 h3.6 M281.4 402.90 h-3.6 M93.6 393.80 h2.0 M281.4 393.80 h-2.0 M93.6 384.70 h3.6 M281.4 384.70 h-3.6 M93.6 375.60 h2.0 M281.4 375.60 h-2.0 M93.6 366.50 h3.6 M281.4 366.50 h-3.6" stroke="#111" stroke-width="0.7" fill="none"/>
<path d="M103.4 288.8 H124" stroke="#3aa53a" stroke-width="0.65"/>
<path d="M103.4 302.5 H124" stroke="#111" stroke-width="1.2"/>
<path d="M103.4 313.7 H124" stroke="#ff2a2a" stroke-width="1.05" stroke-dasharray="3.5 2.1"/>
<path d="M103.4 324.4 H124" stroke="#3030ff" stroke-width="1.1" stroke-dasharray="2.8 1.2 0.7 1.2 0.7 1.2"/>
<path d="M190 409.4 H209.8" stroke="#111" stroke-width="1.1"/>
<path d="M190 423.1 H209.8" stroke="#ff2a2a" stroke-width="1.05" stroke-dasharray="3.5 2.1"/>
<path d="M190 434.0 H209.8" stroke="#3030ff" stroke-width="1.1" stroke-dasharray="2.8 1.2 0.7 1.2 0.7 1.2"/>
<path d="M190 445.1 H209.8" stroke="#3aa53a" stroke-width="0.65"/>
<g font-family="Liberation Serif, serif" fill="#111" stroke="#111" stroke-width="0.28" stroke-linejoin="round" text-rendering="geometricPrecision" filter="url(#soft)">
<text x="90.9" y="342.20" font-size="7.9" text-anchor="end" textLength="9.4" lengthAdjust="spacingAndGlyphs">3.0</text>
<text x="90.9" y="323.98" font-size="7.9" text-anchor="end" textLength="9.4" lengthAdjust="spacingAndGlyphs">3.2</text>
<text x="90.9" y="305.76" font-size="7.9" text-anchor="end" textLength="9.4" lengthAdjust="spacingAndGlyphs">3.4</text>
<text x="90.9" y="287.54" font-size="7.9" text-anchor="end" textLength="9.4" lengthAdjust="spacingAndGlyphs">3.6</text>
<text x="90.9" y="269.32" font-size="7.9" text-anchor="end" textLength="9.4" lengthAdjust="spacingAndGlyphs">3.8</text>
<text x="90.9" y="251.10" font-size="7.9" text-anchor="end" textLength="9.4" lengthAdjust="spacingAndGlyphs">4.0</text>
<text x="90.9" y="460.20" font-size="7.9" text-anchor="end" textLength="9.4" lengthAdjust="spacingAndGlyphs">3.0</text>
<text x="90.9" y="442.00" font-size="7.9" text-anchor="end" textLength="9.4" lengthAdjust="spacingAndGlyphs">3.2</text>
<text x="90.9" y="423.80" font-size="7.9" text-anchor="end" textLength="9.4" lengthAdjust="spacingAndGlyphs">3.4</text>
<text x="90.9" y="405.60" font-size="7.9" text-anchor="end" textLength="9.4" lengthAdjust="spacingAndGlyphs">3.6</text>
<text x="90.9" y="387.40" font-size="7.9" text-anchor="end" textLength="9.4" lengthAdjust="spacingAndGlyphs">3.8</text>
<text x="90.9" y="369.20" font-size="7.9" text-anchor="end" textLength="9.4" lengthAdjust="spacingAndGlyphs">4.0</text>
<text x="88.70" y="350.6" font-size="7.6">10<tspan dy="-3.7" font-size="5.6">-3</tspan></text>
<text x="120.00" y="350.6" font-size="7.6">10<tspan dy="-3.7" font-size="5.6">-2</tspan></text>
<text x="151.30" y="350.6" font-size="7.6">10<tspan dy="-3.7" font-size="5.6">-1</tspan></text>
<text x="182.90" y="350.6" font-size="7.6">10<tspan dy="-3.7" font-size="5.6">0</tspan></text>
<text x="214.20" y="350.6" font-size="7.6">10<tspan dy="-3.7" font-size="5.6">1</tspan></text>
<text x="245.50" y="350.6" font-size="7.6">10<tspan dy="-3.7" font-size="5.6">2</tspan></text>
<text x="276.80" y="350.6" font-size="7.6">10<tspan dy="-3.7" font-size="5.6">3</tspan></text>
<text x="89.20" y="467.4" font-size="7.9" textLength="8.9" lengthAdjust="spacingAndGlyphs">0.0</text>
<text x="120.50" y="467.4" font-size="7.9" textLength="8.9" lengthAdjust="spacingAndGlyphs">0.2</text>
<text x="151.80" y="467.4" font-size="7.9" textLength="8.9" lengthAdjust="spacingAndGlyphs">0.4</text>
<text x="183.10" y="467.4" font-size="7.9" textLength="8.9" lengthAdjust="spacingAndGlyphs">0.6</text>
<text x="214.40" y="467.4" font-size="7.9" textLength="8.9" lengthAdjust="spacingAndGlyphs">0.8</text>
<text x="245.70" y="467.4" font-size="7.9" textLength="8.9" lengthAdjust="spacingAndGlyphs">1.0</text>
<text x="277.00" y="467.4" font-size="7.9" textLength="8.9" lengthAdjust="spacingAndGlyphs">1.2</text>
<text x="166.6" y="359.5" font-size="10.6"><tspan font-style="italic">N</tspan>(<tspan font-style="italic">a</tspan><tspan dy="3.6" font-size="5.9">1D</tspan><tspan dy="-3.6">/</tspan><tspan font-style="italic">a</tspan><tspan dy="3.6" font-size="5.9">ho</tspan><tspan dy="-3.6">)</tspan><tspan dy="-5.4" font-size="6">2</tspan></text>
<text x="179.4" y="476.3" font-size="10.2" letter-spacing="-0.7"><tspan font-style="italic">T</tspan>/<tspan font-style="italic">T</tspan><tspan dy="3.9" dx="0.9" font-size="6.4">F</tspan></text>
<text transform="translate(74.9 293.0) rotate(-90) scale(1 1.12)" font-size="10" text-anchor="middle">(ω<tspan dy="1.9" font-size="5.6" font-style="italic">B</tspan><tspan dy="-1.9">/ω</tspan><tspan dy="1.9" font-size="5.6" font-style="italic">z</tspan><tspan dy="-1.9">)</tspan><tspan dy="-4.4" font-size="5.8">2</tspan></text>
<text transform="translate(74.9 411.2) rotate(-90) scale(1 1.12)" font-size="10" text-anchor="middle">(ω<tspan dy="1.9" font-size="5.6" font-style="italic">B</tspan><tspan dy="-1.9">/ω</tspan><tspan dy="1.9" font-size="5.6" font-style="italic">z</tspan><tspan dy="-1.9">)</tspan><tspan dy="-4.4" font-size="5.8">2</tspan></text>
<text x="267" y="321.4" font-size="10.2" text-anchor="middle">(a)</text>
<text x="266.6" y="444.3" font-size="10.2" text-anchor="middle">(b)</text>
</g>
<g font-family="Liberation Serif, serif" stroke-width="0.22" stroke-linejoin="round" text-rendering="geometricPrecision" filter="url(#soft)">
<text x="126.4" y="291.6" font-size="9" fill="#1f8a1f" stroke="#1f8a1f" letter-spacing="-0.25"><tspan font-style="italic">T</tspan>/<tspan font-style="italic">T</tspan><tspan dy="2.2" font-size="5.2" font-style="italic">F</tspan><tspan dy="-2.2">=0</tspan></text>
<text x="126" y="305.5" font-size="9" fill="#111" stroke="#111">0.05</text>
<text x="126" y="316.7" font-size="9" fill="#ff2a2a" stroke="#ff2a2a">0.5</text>
<text x="126.4" y="327.4" font-size="9" fill="#3030ff" stroke="#3030ff">5.0</text>
<text x="212" y="412.4" font-size="9" fill="#111" stroke="#111"><tspan font-style="italic">N</tspan>(<tspan font-style="italic">a</tspan><tspan dy="2.5" font-size="5.2">1D</tspan><tspan dy="-2.5">/</tspan><tspan font-style="italic">a</tspan><tspan dy="2.5" font-size="5.2">ho</tspan><tspan dy="-2.5">)</tspan><tspan dy="-3.6" font-size="5.2">2</tspan><tspan dy="3.6">=100</tspan></text>
<text x="212" y="426.1" font-size="9" fill="#ff2a2a" stroke="#ff2a2a">1</text>
<text x="212" y="437.0" font-size="9" fill="#3030ff" stroke="#3030ff">0.01</text>
<text x="212" y="448.1" font-size="9" fill="#1f8a1f" stroke="#1f8a1f">sum rules</text>
</g>
</svg>
</body></html>
